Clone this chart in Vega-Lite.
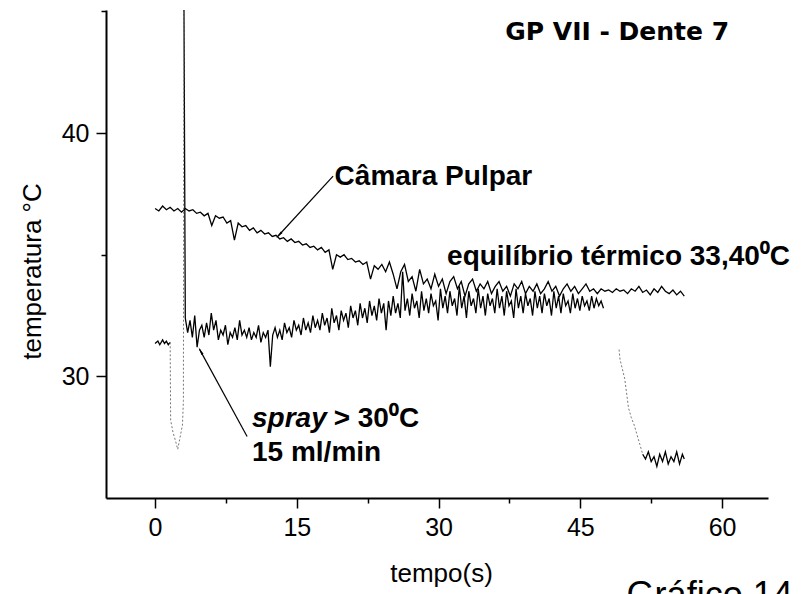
{
  "$schema": "https://vega.github.io/schema/vega-lite/v6.json",
  "width": 662,
  "height": 488,
  "autosize": {"type": "none"},
  "padding": {"left": 106, "top": 10, "right": 42, "bottom": 96},
  "background": "white",
  "config": {
    "view": {"stroke": null},
    "axis": {
      "domainColor": "black", "domainWidth": 2, "tickColor": "black", "tickWidth": 1.5,
      "labelColor": "black", "titleColor": "black", "labelFont": "Liberation Sans", "titleFont": "Liberation Sans",
      "labelFontSize": 25, "titleFontSize": 26, "titleFontWeight": "normal", "grid": false,
      "labelPadding": 7, "labelFlush": false
    }
  },
  "datasets": {
    "pulpar": [
      {"time":0.0,"temp":36.9},{"time":0.4,"temp":36.8},{"time":0.8,"temp":37.0},{"time":1.2,"temp":36.85},{"time":1.6,"temp":36.95},
      {"time":2.0,"temp":36.8},{"time":2.4,"temp":36.9},{"time":2.8,"temp":36.75},{"time":3.2,"temp":36.9},{"time":3.6,"temp":36.8},
      {"time":4.0,"temp":36.85},{"time":4.4,"temp":36.7},{"time":4.8,"temp":36.75},{"time":5.2,"temp":36.6},{"time":5.6,"temp":36.7},
      {"time":6.0,"temp":36.2},{"time":6.4,"temp":36.6},{"time":6.8,"temp":36.5},{"time":7.2,"temp":36.55},{"time":7.6,"temp":36.3},
      {"time":8.0,"temp":36.4},{"time":8.4,"temp":35.6},{"time":8.8,"temp":36.3},{"time":9.2,"temp":36.15},{"time":9.6,"temp":36.2},
      {"time":10.0,"temp":36.0},{"time":10.4,"temp":36.1},{"time":10.8,"temp":35.9},{"time":11.2,"temp":36.0},{"time":11.6,"temp":35.85},
      {"time":12.0,"temp":35.9},{"time":12.4,"temp":35.75},{"time":12.8,"temp":35.8},{"time":13.2,"temp":35.65},{"time":13.6,"temp":35.7},
      {"time":14.0,"temp":35.55},{"time":14.4,"temp":35.65},{"time":14.8,"temp":35.5},{"time":15.2,"temp":35.55},{"time":15.6,"temp":35.4},
      {"time":16.0,"temp":35.45},{"time":16.4,"temp":35.3},{"time":16.8,"temp":35.35},{"time":17.2,"temp":35.2},{"time":17.6,"temp":35.3},
      {"time":18.0,"temp":35.1},{"time":18.4,"temp":35.2},{"time":18.8,"temp":34.4},{"time":19.2,"temp":35.0},{"time":19.6,"temp":34.9},
      {"time":20.0,"temp":35.0},{"time":20.4,"temp":34.8},{"time":20.8,"temp":34.85},{"time":21.2,"temp":34.7},{"time":21.6,"temp":34.75},
      {"time":22.0,"temp":34.6},{"time":22.4,"temp":34.7},{"time":22.8,"temp":34.0},{"time":23.2,"temp":34.55},{"time":23.6,"temp":34.4},
      {"time":24.0,"temp":34.6},{"time":24.4,"temp":34.3},{"time":24.8,"temp":34.7},{"time":25.2,"temp":34.2},{"time":25.6,"temp":33.6},
      {"time":26.0,"temp":34.3},{"time":26.4,"temp":34.6},{"time":26.8,"temp":33.9},{"time":27.2,"temp":34.1},{"time":27.6,"temp":33.5},
      {"time":28.0,"temp":34.4},{"time":28.4,"temp":33.8},{"time":28.8,"temp":34.0},{"time":29.2,"temp":33.6},{"time":29.6,"temp":34.2},
      {"time":30.0,"temp":33.7},{"time":30.4,"temp":34.0},{"time":30.8,"temp":33.4},{"time":31.2,"temp":33.9},{"time":31.6,"temp":34.1},
      {"time":32.0,"temp":33.6},{"time":32.4,"temp":33.9},{"time":32.8,"temp":33.3},{"time":33.2,"temp":33.8},{"time":33.6,"temp":34.0},
      {"time":34.0,"temp":33.5},{"time":34.4,"temp":33.8},{"time":34.8,"temp":33.6},{"time":35.2,"temp":33.9},{"time":35.6,"temp":33.4},
      {"time":36.0,"temp":33.7},{"time":36.4,"temp":33.9},{"time":36.8,"temp":33.5},{"time":37.2,"temp":33.7},{"time":37.6,"temp":33.3},
      {"time":38.0,"temp":33.8},{"time":38.4,"temp":33.6},{"time":38.8,"temp":33.9},{"time":39.2,"temp":33.4},{"time":39.6,"temp":33.7},
      {"time":40.0,"temp":33.5},{"time":40.4,"temp":33.8},{"time":40.8,"temp":33.4},{"time":41.2,"temp":33.6},{"time":41.6,"temp":33.9},
      {"time":42.0,"temp":33.5},{"time":42.4,"temp":33.7},{"time":42.8,"temp":33.3},{"time":43.2,"temp":33.6},{"time":43.6,"temp":33.8},
      {"time":44.0,"temp":33.5},{"time":44.4,"temp":33.7},{"time":44.8,"temp":33.4},{"time":45.2,"temp":33.6},{"time":45.6,"temp":33.8},
      {"time":46.0,"temp":33.5},{"time":46.4,"temp":33.6},{"time":46.8,"temp":33.4},{"time":47.2,"temp":33.6},{"time":47.6,"temp":33.5},
      {"time":48.0,"temp":33.55},{"time":48.4,"temp":33.45},{"time":48.8,"temp":33.6},{"time":49.2,"temp":33.5},{"time":49.6,"temp":33.55},
      {"time":50.0,"temp":33.4},{"time":50.4,"temp":33.6},{"time":50.8,"temp":33.5},{"time":51.2,"temp":33.7},{"time":51.6,"temp":33.45},
      {"time":52.0,"temp":33.55},{"time":52.4,"temp":33.35},{"time":52.8,"temp":33.6},{"time":53.2,"temp":33.45},{"time":53.6,"temp":33.7},
      {"time":54.0,"temp":33.5},{"time":54.4,"temp":33.4},{"time":54.8,"temp":33.55},{"time":55.2,"temp":33.35},{"time":55.6,"temp":33.5},
      {"time":56.0,"temp":33.3}
    ],
    "spray": [
      {"time":0.0,"temp":31.35,"seg":"pre"},{"time":0.3,"temp":31.45,"seg":"pre"},{"time":0.5,"temp":31.3,"seg":"pre"},{"time":0.8,"temp":31.5,"seg":"pre"},
      {"time":1.0,"temp":31.35,"seg":"pre"},{"time":1.2,"temp":31.45,"seg":"pre"},{"time":1.4,"temp":31.3,"seg":"pre"},{"time":1.6,"temp":31.4,"seg":"pre"},
      {"time":1.6,"temp":31.4,"seg":"drop"},{"time":1.65,"temp":28.2,"seg":"drop"},{"time":1.9,"temp":27.7,"seg":"drop"},{"time":2.2,"temp":27.3,"seg":"drop"},
      {"time":2.4,"temp":27.0,"seg":"drop"},{"time":2.6,"temp":27.4,"seg":"drop"},{"time":2.9,"temp":28.0,"seg":"drop"},{"time":3.0,"temp":29.0,"seg":"drop"},
      {"time":3.05,"temp":46.0,"seg":"drop"},
      {"time":3.05,"temp":46.0,"seg":"main"},{"time":3.2,"temp":32.4,"seg":"main"},
      {"time":3.45,"temp":31.8,"seg":"main"},{"time":3.7,"temp":32.3,"seg":"main"},{"time":3.95,"temp":31.6,"seg":"main"},{"time":4.2,"temp":32.5,"seg":"main"},
      {"time":4.45,"temp":31.2,"seg":"main"},{"time":4.7,"temp":31.9,"seg":"main"},{"time":4.95,"temp":32.1,"seg":"main"},{"time":5.2,"temp":31.6,"seg":"main"},
      {"time":5.45,"temp":32.2,"seg":"main"},{"time":5.7,"temp":31.7,"seg":"main"},{"time":5.95,"temp":32.6,"seg":"main"},{"time":6.2,"temp":31.9,"seg":"main"},
      {"time":6.45,"temp":32.3,"seg":"main"},{"time":6.7,"temp":31.5,"seg":"main"},{"time":6.95,"temp":31.9,"seg":"main"},{"time":7.2,"temp":31.7,"seg":"main"},
      {"time":7.45,"temp":32.1,"seg":"main"},{"time":7.7,"temp":31.3,"seg":"main"},{"time":7.95,"temp":31.8,"seg":"main"},{"time":8.2,"temp":31.6,"seg":"main"},
      {"time":8.45,"temp":32.0,"seg":"main"},{"time":8.7,"temp":31.5,"seg":"main"},{"time":8.95,"temp":32.3,"seg":"main"},{"time":9.2,"temp":31.7,"seg":"main"},
      {"time":9.45,"temp":31.9,"seg":"main"},{"time":9.7,"temp":31.6,"seg":"main"},{"time":9.95,"temp":32.0,"seg":"main"},{"time":10.2,"temp":31.5,"seg":"main"},
      {"time":10.45,"temp":31.8,"seg":"main"},{"time":10.7,"temp":31.6,"seg":"main"},{"time":10.95,"temp":32.1,"seg":"main"},{"time":11.2,"temp":31.4,"seg":"main"},
      {"time":11.45,"temp":31.8,"seg":"main"},{"time":11.7,"temp":31.6,"seg":"main"},{"time":11.95,"temp":31.9,"seg":"main"},{"time":12.2,"temp":30.4,"seg":"main"},
      {"time":12.45,"temp":31.7,"seg":"main"},{"time":12.7,"temp":32.0,"seg":"main"},{"time":12.95,"temp":31.6,"seg":"main"},{"time":13.2,"temp":31.9,"seg":"main"},
      {"time":13.45,"temp":31.5,"seg":"main"},{"time":13.7,"temp":32.2,"seg":"main"},{"time":13.95,"temp":31.8,"seg":"main"},{"time":14.2,"temp":32.0,"seg":"main"},
      {"time":14.45,"temp":31.6,"seg":"main"},{"time":14.7,"temp":32.3,"seg":"main"},{"time":14.95,"temp":31.9,"seg":"main"},{"time":15.2,"temp":32.1,"seg":"main"},
      {"time":15.45,"temp":31.7,"seg":"main"},{"time":15.7,"temp":32.4,"seg":"main"},{"time":15.95,"temp":31.9,"seg":"main"},{"time":16.2,"temp":32.2,"seg":"main"},
      {"time":16.45,"temp":31.8,"seg":"main"},{"time":16.7,"temp":32.5,"seg":"main"},{"time":16.95,"temp":32.0,"seg":"main"},{"time":17.2,"temp":32.3,"seg":"main"},
      {"time":17.45,"temp":31.9,"seg":"main"},{"time":17.7,"temp":32.6,"seg":"main"},{"time":17.95,"temp":32.1,"seg":"main"},{"time":18.2,"temp":32.4,"seg":"main"},
      {"time":18.45,"temp":31.8,"seg":"main"},{"time":18.7,"temp":32.8,"seg":"main"},{"time":18.95,"temp":32.2,"seg":"main"},{"time":19.2,"temp":32.5,"seg":"main"},
      {"time":19.45,"temp":31.9,"seg":"main"},{"time":19.7,"temp":32.7,"seg":"main"},{"time":19.95,"temp":32.3,"seg":"main"},{"time":20.2,"temp":32.6,"seg":"main"},
      {"time":20.45,"temp":32.0,"seg":"main"},{"time":20.7,"temp":32.9,"seg":"main"},{"time":20.95,"temp":32.4,"seg":"main"},{"time":21.2,"temp":32.7,"seg":"main"},
      {"time":21.45,"temp":32.1,"seg":"main"},{"time":21.7,"temp":33.0,"seg":"main"},{"time":21.95,"temp":32.4,"seg":"main"},{"time":22.2,"temp":32.8,"seg":"main"},
      {"time":22.45,"temp":32.2,"seg":"main"},{"time":22.7,"temp":33.1,"seg":"main"},{"time":22.95,"temp":32.5,"seg":"main"},{"time":23.2,"temp":32.9,"seg":"main"},
      {"time":23.45,"temp":32.3,"seg":"main"},{"time":23.7,"temp":33.2,"seg":"main"},{"time":23.95,"temp":32.6,"seg":"main"},{"time":24.2,"temp":33.0,"seg":"main"},
      {"time":24.45,"temp":31.9,"seg":"main"},{"time":24.7,"temp":33.1,"seg":"main"},{"time":24.95,"temp":32.5,"seg":"main"},{"time":25.2,"temp":33.3,"seg":"main"},
      {"time":25.45,"temp":32.6,"seg":"main"},{"time":25.7,"temp":33.0,"seg":"main"},{"time":25.95,"temp":32.4,"seg":"main"},{"time":26.2,"temp":34.3,"seg":"main"},
      {"time":26.45,"temp":32.7,"seg":"main"},{"time":26.7,"temp":33.2,"seg":"main"},{"time":26.95,"temp":32.5,"seg":"main"},{"time":27.2,"temp":33.4,"seg":"main"},
      {"time":27.45,"temp":32.8,"seg":"main"},{"time":27.7,"temp":33.1,"seg":"main"},{"time":27.95,"temp":32.4,"seg":"main"},{"time":28.2,"temp":33.5,"seg":"main"},
      {"time":28.45,"temp":32.7,"seg":"main"},{"time":28.7,"temp":33.2,"seg":"main"},{"time":28.95,"temp":32.6,"seg":"main"},{"time":29.2,"temp":33.4,"seg":"main"},
      {"time":29.45,"temp":32.9,"seg":"main"},{"time":29.7,"temp":33.1,"seg":"main"},{"time":29.95,"temp":32.3,"seg":"main"},{"time":30.2,"temp":33.6,"seg":"main"},
      {"time":30.45,"temp":32.8,"seg":"main"},{"time":30.7,"temp":33.3,"seg":"main"},{"time":30.95,"temp":32.6,"seg":"main"},{"time":31.2,"temp":33.5,"seg":"main"},
      {"time":31.45,"temp":32.9,"seg":"main"},{"time":31.7,"temp":33.2,"seg":"main"},{"time":31.95,"temp":32.5,"seg":"main"},{"time":32.2,"temp":33.7,"seg":"main"},
      {"time":32.45,"temp":32.8,"seg":"main"},{"time":32.7,"temp":33.3,"seg":"main"},{"time":32.95,"temp":32.4,"seg":"main"},{"time":33.2,"temp":33.5,"seg":"main"},
      {"time":33.45,"temp":32.9,"seg":"main"},{"time":33.7,"temp":33.2,"seg":"main"},{"time":33.95,"temp":32.6,"seg":"main"},{"time":34.2,"temp":33.6,"seg":"main"},
      {"time":34.45,"temp":32.8,"seg":"main"},{"time":34.7,"temp":33.3,"seg":"main"},{"time":34.95,"temp":32.5,"seg":"main"},{"time":35.2,"temp":33.4,"seg":"main"},
      {"time":35.45,"temp":32.9,"seg":"main"},{"time":35.7,"temp":33.2,"seg":"main"},{"time":35.95,"temp":32.6,"seg":"main"},{"time":36.2,"temp":33.6,"seg":"main"},
      {"time":36.45,"temp":32.8,"seg":"main"},{"time":36.7,"temp":33.3,"seg":"main"},{"time":36.95,"temp":32.5,"seg":"main"},{"time":37.2,"temp":33.5,"seg":"main"},
      {"time":37.45,"temp":32.9,"seg":"main"},{"time":37.7,"temp":33.1,"seg":"main"},{"time":37.95,"temp":32.4,"seg":"main"},{"time":38.2,"temp":33.6,"seg":"main"},
      {"time":38.45,"temp":32.8,"seg":"main"},{"time":38.7,"temp":33.3,"seg":"main"},{"time":38.95,"temp":32.6,"seg":"main"},{"time":39.2,"temp":33.4,"seg":"main"},
      {"time":39.45,"temp":32.9,"seg":"main"},{"time":39.7,"temp":33.2,"seg":"main"},{"time":39.95,"temp":32.5,"seg":"main"},{"time":40.2,"temp":33.5,"seg":"main"},
      {"time":40.45,"temp":32.8,"seg":"main"},{"time":40.7,"temp":33.3,"seg":"main"},{"time":40.95,"temp":32.6,"seg":"main"},{"time":41.2,"temp":33.4,"seg":"main"},
      {"time":41.45,"temp":32.9,"seg":"main"},{"time":41.7,"temp":33.2,"seg":"main"},{"time":41.95,"temp":32.5,"seg":"main"},{"time":42.2,"temp":33.5,"seg":"main"},
      {"time":42.45,"temp":32.8,"seg":"main"},{"time":42.7,"temp":33.3,"seg":"main"},{"time":42.95,"temp":32.6,"seg":"main"},{"time":43.2,"temp":33.4,"seg":"main"},
      {"time":43.45,"temp":32.9,"seg":"main"},{"time":43.7,"temp":33.1,"seg":"main"},{"time":43.95,"temp":32.6,"seg":"main"},{"time":44.2,"temp":33.4,"seg":"main"},
      {"time":44.45,"temp":32.8,"seg":"main"},{"time":44.7,"temp":33.2,"seg":"main"},{"time":44.95,"temp":32.7,"seg":"main"},{"time":45.2,"temp":33.3,"seg":"main"},
      {"time":45.45,"temp":32.9,"seg":"main"},{"time":45.7,"temp":33.1,"seg":"main"},{"time":45.95,"temp":32.7,"seg":"main"},{"time":46.2,"temp":33.3,"seg":"main"},
      {"time":46.45,"temp":32.8,"seg":"main"},{"time":46.7,"temp":33.2,"seg":"main"},{"time":46.95,"temp":32.9,"seg":"main"},{"time":47.2,"temp":33.1,"seg":"main"},
      {"time":47.45,"temp":32.8,"seg":"main"},
      {"time":49.1,"temp":31.1,"seg":"enddrop"},{"time":49.2,"temp":30.7,"seg":"enddrop"},{"time":49.7,"temp":29.9,"seg":"enddrop"},{"time":50.1,"temp":28.7,"seg":"enddrop"},
      {"time":50.4,"temp":28.3,"seg":"enddrop"},{"time":50.7,"temp":28.0,"seg":"enddrop"},{"time":51.0,"temp":27.6,"seg":"enddrop"},{"time":51.3,"temp":27.2,"seg":"enddrop"},
      {"time":51.6,"temp":26.8,"seg":"enddrop"},
      {"time":51.6,"temp":26.8,"seg":"end"},{"time":51.9,"temp":26.6,"seg":"end"},{"time":52.2,"temp":26.9,"seg":"end"},{"time":52.5,"temp":26.5,"seg":"end"},
      {"time":52.8,"temp":26.7,"seg":"end"},{"time":53.1,"temp":26.3,"seg":"end"},{"time":53.4,"temp":26.8,"seg":"end"},{"time":53.7,"temp":26.5,"seg":"end"},
      {"time":54.0,"temp":26.9,"seg":"end"},{"time":54.3,"temp":26.4,"seg":"end"},{"time":54.6,"temp":26.7,"seg":"end"},{"time":54.9,"temp":26.5,"seg":"end"},
      {"time":55.2,"temp":26.9,"seg":"end"},{"time":55.5,"temp":26.4,"seg":"end"},{"time":55.8,"temp":26.8,"seg":"end"},{"time":56.0,"temp":26.6,"seg":"end"}
    ],
    "arrows": [
      {"time":18.84,"temp":38.23,"time2":12.95,"temp2":35.74},
      {"time":9.74,"temp":27.53,"time2":4.7,"temp2":31.12}
    ]
  },
  "encoding": {
    "x": {
      "field": "time", "type": "quantitative",
      "scale": {"domain": [-5.19, 64.86], "nice": false, "zero": false},
      "axis": {
        "title": "tempo(s)",
        "values": [0, 7.5, 15, 22.5, 30, 37.5, 45, 52.5, 60],
        "labelExpr": "datum.value % 15 === 0 ? datum.label : ''",
        "tickSize": {"condition": {"test": "datum.value % 15 !== 0", "value": 5}, "value": 10},
        "titleX": 335, "titleY": 83, "titleBaseline": "alphabetic"
      }
    },
    "y": {
      "field": "temp", "type": "quantitative",
      "scale": {"domain": [25, 45.06], "nice": false, "zero": false},
      "axis": {
        "title": "temperatura °C",
        "values": [30, 35, 40, 45],
        "labelExpr": "datum.value % 10 === 0 ? datum.label : ''",
        "tickSize": {"condition": {"test": "datum.value % 10 !== 0", "value": 5}, "value": 10},
        "titleX": -66, "titleY": 261, "titleAngle": -90, "titleBaseline": "alphabetic", "titleAlign": "center"
      }
    }
  },
  "layer": [
    {
      "data": {"name": "pulpar"},
      "mark": {"type": "line", "color": "black", "strokeWidth": 1.3, "clip": true}
    },
    {
      "data": {"name": "spray"},
      "transform": [{"filter": {"field": "seg", "oneOf": ["pre", "main", "end"]}}],
      "mark": {"type": "line", "color": "black", "strokeWidth": 1.3, "clip": true},
      "encoding": {"detail": {"field": "seg"}}
    },
    {
      "data": {"name": "spray"},
      "transform": [{"filter": {"field": "seg", "oneOf": ["drop", "enddrop"]}}],
      "mark": {"type": "line", "color": "#777777", "strokeWidth": 1, "strokeDash": [2, 2], "clip": true},
      "encoding": {"detail": {"field": "seg"}}
    },
    {
      "data": {"name": "arrows"},
      "mark": {"type": "rule", "color": "black", "strokeWidth": 1.2},
      "encoding": {"x2": {"field": "time2"}, "y2": {"field": "temp2"}}
    },
    {
      "data": {"values": [{"time": 13.2, "temp": 35.84}]},
      "mark": {"type": "point", "shape": "wedge", "filled": true, "color": "black", "opacity": 1, "size": 90, "angle": 223}
    },
    {
      "data": {"values": [{"time": 4.88, "temp": 31.0}]},
      "mark": {"type": "point", "shape": "wedge", "filled": true, "color": "black", "opacity": 1, "size": 90, "angle": 331}
    },
    {
      "data": {"values": [
        {"time": 19.0, "temp": 37.86, "label": "Câmara Pulpar"},
        {"time": 30.9, "temp": 34.57, "label": "equilíbrio térmico 33,40⁰C"},
        {"time": 18.9, "temp": 27.9, "label": "> 30⁰C"},
        {"time": 10.26, "temp": 26.54, "label": "15 ml/min"}
      ]},
      "mark": {"type": "text", "align": "left", "baseline": "alphabetic", "font": "Liberation Sans", "fontSize": 28, "fontWeight": "bold", "color": "black"},
      "encoding": {"text": {"field": "label"}}
    },
    {
      "data": {"values": [{"time": 10.26, "temp": 27.9, "label": "spray"}]},
      "mark": {"type": "text", "align": "left", "baseline": "alphabetic", "font": "Liberation Sans", "fontSize": 28, "fontWeight": "bold", "fontStyle": "italic", "color": "black"},
      "encoding": {"text": {"field": "label"}}
    },
    {
      "data": {"values": [{"time": 48.9, "temp": 43.83, "label": "GP VII - Dente 7"}]},
      "mark": {"type": "text", "align": "center", "baseline": "alphabetic", "font": "DejaVu Sans", "fontSize": 25, "fontWeight": "bold", "color": "black"},
      "encoding": {"text": {"field": "label"}}
    },
    {
      "data": {"values": [{"time": 49.9, "temp": 20.53, "label": "Gráfico 14"}]},
      "mark": {"type": "text", "align": "left", "baseline": "alphabetic", "font": "Liberation Sans", "fontSize": 36, "color": "black"},
      "encoding": {"text": {"field": "label"}}
    }
  ]
}
